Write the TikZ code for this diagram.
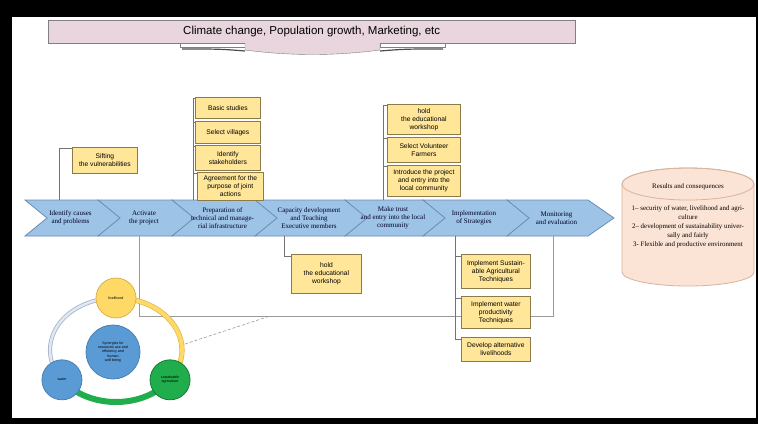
\documentclass[tikz,border=0pt]{standalone}
\usepackage{fontspec}
\setmainfont{Liberation Serif}
\newfontfamily\arialfont{Liberation Sans}
\usetikzlibrary{positioning}
\definecolor{chevfill}{HTML}{9DC3E6}
\definecolor{chevline}{HTML}{6A8DB3}
\definecolor{boxfill}{HTML}{FFE699}
\definecolor{boxline}{HTML}{8C7A4A}
\definecolor{bannerfill}{HTML}{E8D5DE}
\definecolor{cylfill}{HTML}{FBE3D6}
\definecolor{cylline}{HTML}{D6B49E}
\definecolor{livyellow}{HTML}{FFD966}
\definecolor{livline}{HTML}{D9B24A}
\definecolor{waterblue}{HTML}{5B9BD5}
\definecolor{waterline}{HTML}{4A7FB5}
\definecolor{agrigreen}{HTML}{1FAE4B}
\definecolor{ringgray}{HTML}{A3B2CC}
\begin{document}
\begin{tikzpicture}[x=1pt, y=-1pt,
  chev/.style={fill=chevfill, draw=chevline, line width=0.8},
  chevtext/.style={font=\fontsize{7}{8}\selectfont, align=center, text=black!85!blue, inner sep=0},
  ybox/.style={draw=boxline, fill=boxfill, line width=0.8, font=\arialfont\fontsize{6.7}{8}\selectfont,
    align=center, inner sep=1, anchor=north west, minimum width=#1},
  ybox/.default=65,
  link/.style={draw=black!55, line width=0.6},
  frameline/.style={draw=black!40, line width=0.6},
  circ/.style={circle, minimum size=40, inner sep=0, align=center, line width=0.8,
    font=\arialfont\fontsize{3.6}{4.2}\selectfont},
]
% Frame
\fill[black] (0,0) rectangle (758,424);
\fill[white] (12,17) rectangle (756,418);
% Banner
\node[draw=black!50, fill=bannerfill, minimum width=527, minimum height=23, inner sep=0, anchor=north west,
  font=\arialfont\fontsize{11.5}{13}\selectfont] (banner) at (48,20) {Climate change, Population growth, Marketing, etc};
\draw[black!50, fill=white] (180,43) rectangle (245,47);
\draw[black!50, fill=white] (380,43) rectangle (445,47);
\draw[black!70, line width=1.2] (182,49) .. controls (220,49) .. (245,51);
\draw[black!70, line width=1.2] (380,51) .. controls (405,49) .. (443,49);
\filldraw[fill=bannerfill, draw=black!50] (245,43) -- (245,50) .. controls (290,56) and (335,56) .. (380,50) -- (380,43);
% Process chevrons
\foreach \xa/\xb/\n/\txt in {25/98/1/{Identify causes\\and problems}, 98/172/2/{Activate\\the project},
  172/255/3/{Preparation of\\technical and manage-\\rial infrastructure},
  255/345/4/{Capacity development\\and Teaching\\Executive members},
  345/423/5/{Make trust\\and entry into the local\\community}, 423/507/6/{Implementation\\of Strategies},
  507/588/7/{Monitoring\\and evaluation}}{
  \draw[chev] (\xa,200) -- (\xb,200) -- ++(26,18) -- (\xb,236) -- (\xa,236) -- ++(22,-18) -- cycle;
  \node[chevtext] (c\n) at ({(\xa+\xb)/2+9},218) {\txt};
}
% Line round the lower part
\coordinate (f2) at (139,236);
\coordinate (f7) at (553,236);
\coordinate (fj) at (270,316);
\coordinate (rj) at (185,344);
\draw[frameline] (f2) -- ++(0,80) -| (f7);
\draw[frameline, densely dashed] (rj) -- (fj);
% Boxes above
\node[ybox, minimum height=26] (sift) at (72,147) {Sifting\\the vulnerabilities};
\node[ybox, minimum height=21] (basic) at (195,97) {Basic studies};
\node[ybox, minimum height=22] (villages) at (195,121) {Select villages};
\node[ybox, minimum height=25] (stake) at (195,145) {Identify\\stakeholders};
\node[ybox=66, minimum height=28] (agree) at (197,172) {Agreement for the\\purpose of joint\\actions};
\node[ybox=73, minimum height=30] (hold) at (387,104) {hold\\the educational\\workshop};
\node[ybox=73, minimum height=25] (volunteer) at (387,137) {Select Volunteer\\Farmers};
\node[ybox=73, minimum height=31] (introduce) at (387,165) {Introduce the project\\and entry into the\\local community};
% Boxes below
\node[ybox=70, minimum height=39] (work) at (291,254) {hold\\the educational\\workshop};
\node[ybox=69, minimum height=34] (sustain) at (461,254) {Implement Sustain-\\able Agricultural\\Techniques};
\node[ybox=69, minimum height=32] (waterprod) at (461,296) {Implement water\\productivity\\Techniques};
\node[ybox=69, minimum height=24] (altern) at (461,337) {Develop alternative\\livelihoods};
% Links
\coordinate (s1) at (59,200);
\coordinate (s3) at (193,200);
\coordinate (s5) at (383,200);
\coordinate (s4) at (284,236);
\coordinate (s6) at (455,236);
\draw[link] (s1) |- ([yshift=-1]sift.north west);
\foreach \b in {basic,villages,stake,agree} \draw[link] (s3) |- ([yshift=-1]\b.north west);
\foreach \b in {hold,volunteer,introduce} \draw[link] (s5) |- ([yshift=-1]\b.north west);
\draw[link] (s4) |- ([yshift=-2]work.north west);
\foreach \b in {sustain,waterprod,altern} \draw[link] (s6) |- ([yshift=-2]\b.north west);
% Synergy circle
\coordinate (ringc) at (116,350);
\draw[draw=ringgray, double=ringgray!30, double distance=2.5, line width=0.8]
  ([shift={(145:66 and 52)}]ringc) arc[start angle=145, end angle=270, x radius=66, y radius=52];
\draw[draw=livline, double=livyellow, double distance=4, line width=0.6]
  ([shift={(270:66 and 52)}]ringc) arc[start angle=270, end angle=395, x radius=66, y radius=52];
\draw[agrigreen, line width=6]
  ([shift={(35:66 and 52)}]ringc) arc[start angle=35, end angle=145, x radius=66, y radius=52];
\node[circ, fill=livyellow, draw=livline] (liv) at ([shift={(270:66 and 52)}]ringc) {livelihood};
\node[circ, fill=waterblue, draw=waterline] (water) at ([shift={(145:66 and 52)}]ringc) {water};
\node[circ, fill=agrigreen, draw=agrigreen!70!black] (agri) at ([shift={(35:66 and 52)}]ringc) {sustainable\\agriculture};
\node[circ, minimum size=54, fill=waterblue, draw=waterline] (syn) at (113,352)
  {Synergies for\\resources use and\\efficiency and\\human\\well being};
% Results cylinder
\filldraw[fill=cylfill, draw=cylline, line width=0.8] (622,184) -- (622,272)
  arc[start angle=180, end angle=0, x radius=66, y radius=14] -- (754,184)
  arc[start angle=0, end angle=-180, x radius=66, y radius=16] -- cycle;
\draw[cylline, line width=0.8] (688,184) ellipse[x radius=66, y radius=16];
\node[font=\fontsize{6.9}{8}\selectfont] (res) at (688,187) {Results and consequences};
\node[font=\fontsize{6.9}{9.2}\selectfont, align=center, anchor=north, inner sep=0] (conseq) at (688,205)
  {1-- security of water, livelihood and agri-\\culture\\2-- development of sustainability univer-\\sally and fairly\\3- Flexible and productive environment};
\end{tikzpicture}
\end{document}
